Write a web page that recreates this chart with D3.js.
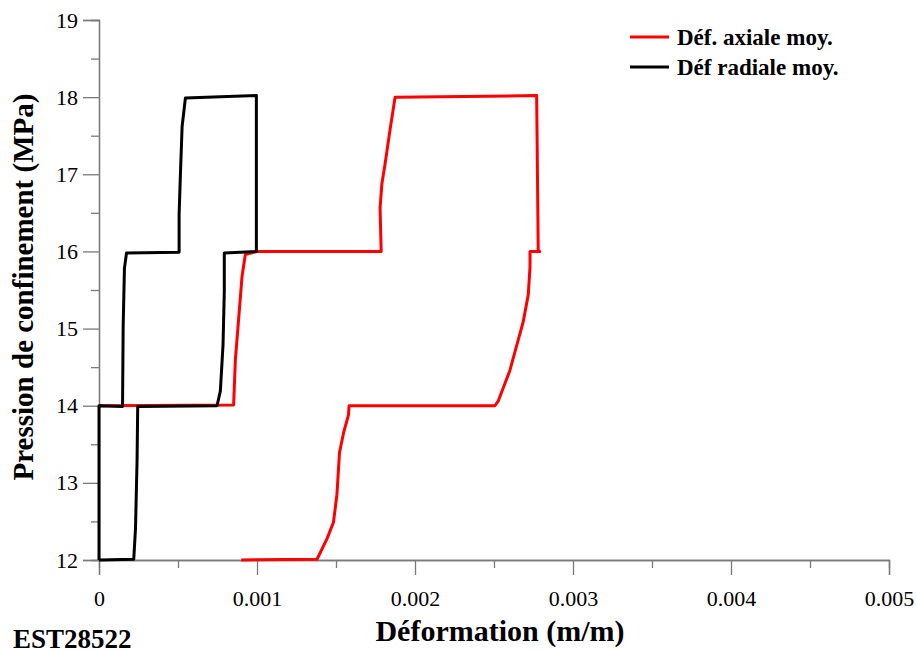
<!DOCTYPE html>
<html><head><meta charset="utf-8">
<script src="https://cdn.jsdelivr.net/npm/d3@7"></script>
<style>body{margin:0;background:#fff} text{font-family:'Liberation Serif','Times New Roman',serif}</style>
</head><body><svg id="c" width="916" height="653"></svg>
<script>
// Axial strain (red) path: [strain m/m, pressure MPa]
const axialStrain = [0, 0.000852, 0.000863, 0.000905, 0.000926, 0.001, 0.001786, 0.001779, 0.00179, 0.001811, 0.001843, 0.001874, 0.00277, 0.00278, 0.00279, 0.002728, 0.002728, 0.002717, 0.002685, 0.002601, 0.002527, 0.002506, 0.001583, 0.001579, 0.001548, 0.001522, 0.001506, 0.001484, 0.001442, 0.00138, 0.00090];
const axialPressure = [14, 14.01, 14.59, 15.67, 15.96, 16, 16, 16.56, 16.87, 17.14, 17.59, 18, 18.02, 16, 16, 16, 15.8, 15.44, 15.09, 14.46, 14.06, 14, 14, 13.88, 13.65, 13.39, 12.85, 12.49, 12.27, 12.01, 12];
// Radial strain (black) path
const radialStrain = [0, 0, 0.000149, 0.000153, 0.000161, 0.000174, 0.000507, 0.000507, 0.000515, 0.000526, 0.000547, 0.000996, 0.000996, 0.000793, 0.000793, 0.000785, 0.000768, 0.000747, 0.000245, 0.000241, 0.000231, 0.00022, 0];
const radialPressure = [12, 14, 13.99, 15.04, 15.78, 15.98, 15.99, 16.48, 16.98, 17.62, 17.99, 18.02, 16, 15.98, 15.48, 14.79, 14.19, 14.0, 13.99, 13.3, 12.41, 12.01, 12];
const xTicks = [0, 0.001, 0.002, 0.003, 0.004, 0.005];
const xTickLabels = ["0", "0.001", "0.002", "0.003", "0.004", "0.005"];
const xMinor = [0.0005, 0.0015, 0.0025, 0.0035, 0.0045];
const yTicks = [12, 13, 14, 15, 16, 17, 18, 19];
const yMinor = [12.5, 13.5, 14.5, 15.5, 16.5, 17.5, 18.5];
const seriesNames = ["Déf. axiale moy.", "Déf radiale moy."];
const seriesColors = ["#ff0000", "#000000"];

const svg = d3.select("#c");
const x = d3.scaleLinear().domain([0, 0.005]).range([99, 889]);
const y = d3.scaleLinear().domain([12, 19]).range([560, 20]);
const serif = "'Liberation Serif','Times New Roman',serif";
const axisColor = "#7a7a7a";

// Y axis
const gy = svg.append("g").attr("transform", "translate(99,0)");
gy.call(d3.axisLeft(y).tickValues(yTicks).tickSize(16).tickFormat(d3.format("d")).tickPadding(5));
const gym = svg.append("g").attr("transform", "translate(99,0)");
gym.call(d3.axisLeft(y).tickValues(yMinor).tickSize(8).tickFormat(""));
// X axis
const gx = svg.append("g").attr("transform", "translate(0,560)");
gx.call(d3.axisBottom(x).tickValues(xTicks).tickSize(15).tickFormat((d, i) => xTickLabels[i]).tickPadding(15));
const gxm = svg.append("g").attr("transform", "translate(0,560)");
gxm.call(d3.axisBottom(x).tickValues(xMinor).tickSize(8).tickFormat(""));
[gy, gym, gx, gxm].forEach(g => g.attr("font-family", serif).attr("font-size", 22));
svg.selectAll(".domain").attr("stroke", axisColor).attr("stroke-width", 1.3);
svg.selectAll(".tick line").attr("stroke", axisColor).attr("stroke-width", 1.3);
svg.selectAll(".tick text").attr("font-family", serif).style("font-family", serif).attr("font-size", 22).attr("fill", "#000");

const line = d3.line().x(d => x(d[0])).y(d => y(d[1]));
const axialData = axialStrain.map((v, i) => [v, axialPressure[i]]);
const radialData = radialStrain.map((v, i) => [v, radialPressure[i]]);
svg.append("path").datum(axialData).attr("d", line).attr("fill", "none")
  .attr("stroke", seriesColors[0]).attr("stroke-width", 3).attr("stroke-linejoin", "round");
svg.append("path").datum(radialData).attr("d", line).attr("fill", "none")
  .attr("stroke", seriesColors[1]).attr("stroke-width", 3).attr("stroke-linejoin", "round");

// Legend
seriesNames.forEach((n, i) => {
  const ly = 37 + i * 30;
  svg.append("line").attr("x1", 630).attr("x2", 669).attr("y1", ly).attr("y2", ly)
    .attr("stroke", seriesColors[i]).attr("stroke-width", 3);
  svg.append("text").attr("x", 677).attr("y", ly + 8).text(n)
    .attr("font-family", serif).attr("font-weight", "bold").attr("font-size", 23);
});

// Titles
svg.append("text").attr("x", 500).attr("y", 641).attr("text-anchor", "middle")
  .attr("font-family", serif).attr("font-weight", "bold").attr("font-size", 30).text("Déformation (m/m)");
svg.append("text").attr("transform", "translate(33,287) rotate(-90)").attr("text-anchor", "middle")
  .attr("font-family", serif).attr("font-weight", "bold").attr("font-size", 29).text("Pression de confinement (MPa)");
svg.append("text").attr("x", 13).attr("y", 648)
  .attr("font-family", serif).attr("font-weight", "bold").attr("font-size", 27).text("EST28522");
</script></body></html>
